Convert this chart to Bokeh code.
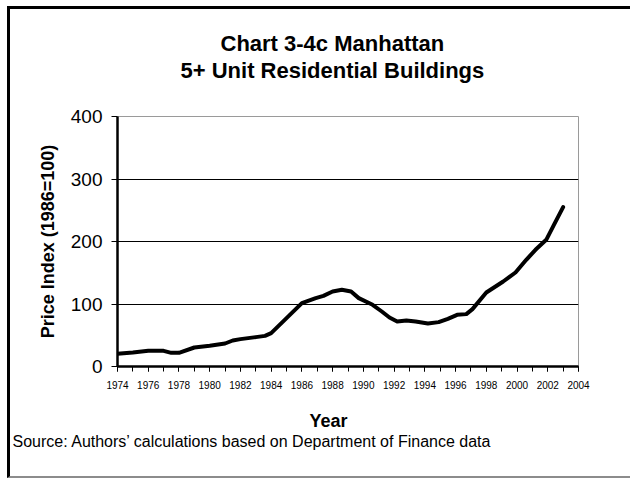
from bokeh.plotting import figure
from bokeh.models import Range1d, SingleIntervalTicker, FixedTicker, Title
from bokeh.embed import file_html
from bokeh.resources import INLINE

# ---- data ----
years = [1974.0, 1975.0, 1976.0, 1977.0, 1977.5, 1978.0, 1979.0, 1980.0, 1981.0,
         1981.5, 1982.0, 1983.0, 1983.6, 1984.0, 1985.0, 1986.0, 1986.9, 1987.4,
         1988.0, 1988.6, 1989.2, 1989.7, 1990.6, 1991.2, 1991.7, 1992.2, 1992.8,
         1993.4, 1994.2, 1994.9, 1995.5, 1996.1, 1996.7, 1997.1, 1998.0, 1999.1,
         1999.9, 2000.6, 2001.2, 2001.9, 2002.4, 2003.0]
index_values = [20.3, 22.4, 25.1, 25.1, 21.9, 21.9, 30.4, 33.1, 36.8,
                41.6, 43.8, 47.0, 49.0, 53.4, 77.4, 101.4, 109.4, 113.0,
                120.0, 122.7, 120.0, 109.4, 98.7, 88.0, 78.4, 72.0, 73.6,
                72.0, 68.8, 71.0, 76.3, 82.7, 83.8, 91.8, 118.4, 136.0,
                150.4, 170.7, 186.7, 202.7, 226.7, 255.0]
y_ticks = [0, 100, 200, 300, 400]
grid_levels = [100, 200, 300]

title_line1 = "Chart 3-4c Manhattan"
title_line2 = "5+ Unit Residential Buildings"
y_title = "Price Index (1986=100)"
x_title = "Year"
source_note = "Source: Authors\u2019 calculations based on Department of Finance data"

FONT = "Liberation Sans"
W, H = 620, 467

p = figure(width=W, height=H, output_backend="svg", toolbar_location=None,
           x_range=Range1d(1974, 2004), y_range=Range1d(0, 400),
           min_border_left=107, min_border_right=55,
           min_border_top=107, min_border_bottom=115,
           background_fill_color="white", border_fill_color="white")
p.styles = {"margin-left": "7px", "margin-top": "6px",
            "border-left": "3px solid black", "border-top": "3px solid black",
            "border-bottom": "2px solid #8c8c8c", "box-sizing": "content-box"}

p.outline_line_color = "#9a9a9a"
p.outline_line_width = 1

# x axis
p.xaxis.ticker = SingleIntervalTicker(interval=2, num_minor_ticks=2)
p.xaxis.axis_line_width = 2.5
p.xaxis.axis_line_color = "black"
p.xaxis.major_tick_in = 0
p.xaxis.major_tick_out = 5
p.xaxis.minor_tick_in = 0
p.xaxis.minor_tick_out = 5
p.xaxis.major_tick_line_color = "black"
p.xaxis.minor_tick_line_color = "black"
p.xaxis.major_label_text_font = FONT
p.xaxis.major_label_text_font_size = "10px"
p.xaxis.major_label_text_color = "black"
p.xaxis.major_label_standoff = 9

# y axis
p.yaxis.ticker = FixedTicker(ticks=y_ticks)
p.yaxis.axis_line_width = 2.5
p.yaxis.axis_line_color = "black"
p.yaxis.major_tick_in = 0
p.yaxis.major_tick_out = 6
p.yaxis.minor_tick_line_color = None
p.yaxis.major_tick_line_color = "black"
p.yaxis.major_label_text_font = FONT
p.yaxis.major_label_text_font_size = "19px"
p.yaxis.major_label_text_color = "black"
p.yaxis.major_label_standoff = 9
p.yaxis.axis_label = y_title
p.yaxis.axis_label_text_font = FONT
p.yaxis.axis_label_text_font_size = "18px"
p.yaxis.axis_label_text_font_style = "bold"
p.yaxis.axis_label_text_color = "black"
p.yaxis.axis_label_standoff = 10

p.xgrid.grid_line_color = None
p.ygrid.ticker = FixedTicker(ticks=grid_levels)
p.ygrid.grid_line_color = "black"
p.ygrid.grid_line_width = 1

p.line(years, index_values, line_color="black", line_width=4,
       line_cap="round", line_join="round")

def make_title(text, size, bold, offset=0, standoff=0):
    return Title(text=text, text_font=FONT, text_font_size=size,
                 text_font_style="bold" if bold else "normal",
                 text_color="black", align="left", offset=offset,
                 standoff=standoff)

# above: stacked outward from the frame (spacer first)
p.add_layout(Title(text=" ", text_font_size="1px", standoff=31), "above")
p.add_layout(make_title(title_line2, "22px", True, offset=63), "above")
p.add_layout(make_title(title_line1, "22px", True, offset=103), "above")
# below: after the axis
p.add_layout(Title(text=" ", text_font_size="1px", standoff=14), "below")
p.add_layout(make_title(x_title, "18px", True, offset=192), "below")
p.add_layout(make_title(source_note, "16px", False, offset=-105), "below")

open("out.html", "w").write(file_html(p, INLINE))
